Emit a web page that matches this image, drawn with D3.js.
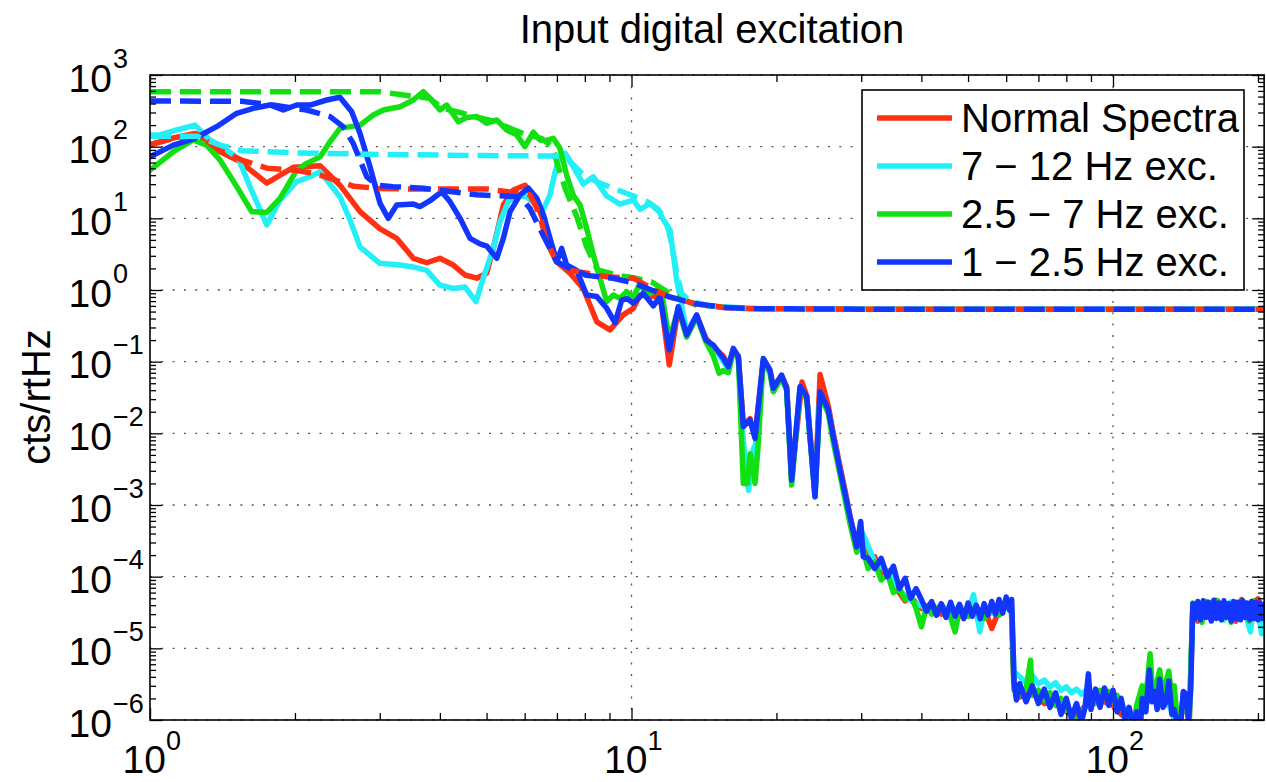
<!DOCTYPE html>
<html>
<head>
<meta charset="utf-8">
<script src="https://cdn.jsdelivr.net/npm/d3@7"></script>
<style>
  body { margin: 0; background: #fff; }
  svg text { font-family: "Liberation Sans", Arial, Helvetica, sans-serif; fill: #000; }
</style>
</head>
<body>
<svg id="chart" width="1266" height="782"></svg>
<script>
// ---- spectra: [frequency Hz, amplitude cts/rtHz] ----
const normalSpectra = [
  [1.0,105],[1.116,132],[1.24,153],[1.375,90],[1.538,62],[1.748,31],[1.984,51.5],[2.255,54],[2.48,29],
  [2.73,12.4],[3.0,7.2],[3.253,5.25],[3.523,2.77],[3.756,2.4],[4.0,2.77],[4.265,2.23],[4.51,1.62],[4.77,1.46],
  [5.0,1.71],[5.164,3.8],[5.417,15.3],[5.683,24.8],[6.008,29],[6.357,17],[6.667,6.5],[6.995,2.48],[7.45,1.71],
  [7.94,1.05],[8.47,0.36],[9.02,0.277],[9.61,0.45],[10.09,0.555],[10.41,0.85],[11.1,0.81],[11.46,0.9],[11.98,0.09],
  [12.51,0.56],[13.02,0.25],[13.66,0.43],[14.28,0.21],[14.79,0.16],[15.51,0.12],[15.89,0.09],[16.27,0.14],[16.67,0.12],
  [17.07,0.013],[17.63,0.016],[18.05,0.009],[18.78,0.1],[19.39,0.075],[19.7,0.045],[20.5,0.062],[21.0,0.045],[21.51,0.0025],
  [22.6,0.052],[23.12,0.033],[24.05,0.0015],[24.64,0.066],[25.63,0.024],[26.25,0.01],[27.1,0.0035],[27.76,0.0016],[28.43,7e-4],
  [29.36,2.8e-4],[30,4e-4],[31,1.6e-4],[32,1.9e-4],[33,1.0e-4],[34,1.2e-4],[35,7.0e-5],[36,6.0e-5],[37,4.6e-5],[38,5.2e-5],
  [40,3.6e-5],[42,4.2e-5],[44,3.0e-5],[46,3.7e-5],[48,2.8e-5],[50,3.5e-5],[52,3.0e-5],[54,3.6e-5],[56,1.9e-5],[58,3.4e-5],
  [60,3.9e-5],[61.5,3.6e-5],[62.3,2.8e-6],[64,2.1e-6],[68,2.4e-6],[72,1.7e-6],[76,1.8e-6],[80,1.3e-6],[84,1.2e-6],[88,1.6e-6],
  [92,1.9e-6],[96,1.8e-6],[100,1.6e-6],[104,1.2e-6],[108,1.0e-6],[112,0.9e-6],[116,1.8e-6],[120,3.0e-6],[124,2.0e-6],
  [128,2.2e-6],[132,1.5e-6],[136,0.7e-6],[140,1.8e-6],[144,1.0e-6],[146.5,3.4e-5],[150,2.4e-5],[155,4.4e-5],[160,2.5e-5],
  [165,4.6e-5],[170,2.6e-5],[175,4.3e-5],[180,2.4e-5],[185,4.8e-5],[190,2.6e-5],[195,4.2e-5],[200,4.9e-5],[206,3.0e-5]
];

const exc7to12 = [
  [1.0,146],[1.049,146],[1.136,171],[1.24,200],[1.332,124],[1.443,90],[1.525,68.7],[1.613,27.7],[1.748,8.1],
  [1.862,18],[2.017,32.5],[2.149,38],[2.255,44.8],[2.48,20],[2.603,9.5],[2.73,4.0],[3.0,2.36],[3.306,2.23],[3.523,2.1],
  [3.756,1.88],[4.0,1.17],[4.265,1.05],[4.51,1.1],[4.754,0.69],[4.922,1.46],[5.164,3.8],[5.333,9.0],[5.548,17],
  [5.776,20.6],[6.058,20],[6.357,15.3],[6.561,13.3],[6.774,21.3],[6.94,44.8],[7.10,76.6],[7.28,81],[7.57,52.6],
  [7.94,30],[8.33,38],[8.88,20.5],[9.46,15.8],[10.09,18],[10.42,13.3],[10.92,16.2],[11.37,13.3],[11.55,10.5],
  [12.02,6.9],[12.21,3.2],[12.41,1.38],[12.61,0.81],[12.81,0.46],[13.02,0.26],[13.66,0.44],[14.28,0.19],[14.79,0.17],
  [15.51,0.1],[15.89,0.08],[16.27,0.14],[16.67,0.11],[17.07,0.008],[17.5,0.0016],[17.9,0.006],[18.1,0.007],[18.78,0.1],
  [19.39,0.07],[19.7,0.04],[20.5,0.06],[21.0,0.04],[21.51,0.0022],[22.39,0.042],[23.12,0.03],[24.05,0.0014],[24.64,0.036],
  [25.63,0.02],[26.25,0.009],[27.1,0.003],[28.43,6.5e-4],[29.36,2.5e-4],[30,4.5e-4],[32,1.6e-4],[34,1.2e-4],[36,6.5e-5],
  [38,4.6e-5],[40,3.9e-5],[42,3.2e-5],[44,4.0e-5],[46,3.2e-5],[48,3.9e-5],[50,3.1e-5],[51.3,5.6e-5],[52.9,1.7e-5],
  [54,3.5e-5],[56,3.1e-5],[58,4.2e-5],[60,3.6e-5],[61.5,4.0e-5],[62.3,4.8e-6],[64,4.0e-6],[66,3.3e-6],[68,4.2e-6],
  [70,3.2e-6],[72,3.6e-6],[74,2.9e-6],[76,3.3e-6],[78,2.6e-6],[80,2.9e-6],[82,2.4e-6],[84,2.7e-6],[86,2.3e-6],[88,2.6e-6],
  [90,2.4e-6],[92,2.2e-6],[94,2.5e-6],[96,2.1e-6],[98,2.3e-6],[100,1.9e-6],[104,1.6e-6],[108,1.3e-6],[112,1.0e-6],
  [116,1.4e-6],[120,2.5e-6],[124,2.2e-6],[128,2.0e-6],[132,1.4e-6],[136,0.8e-6],[140,2.0e-6],[144,1.1e-6],[146.5,3.8e-5],
  [150,2.7e-5],[155,4.5e-5],[160,2.6e-5],[165,4.2e-5],[170,2.5e-5],[175,4.4e-5],[180,2.8e-5],[185,4.1e-5],[190,2.5e-5],
  [193,1.7e-5],[196,4.2e-5],[200,3.3e-5],[203.6,1.6e-5],[206,3.4e-5]
];

const exc2p5to7 = [
  [1.0,47],[1.118,85],[1.23,124],[1.311,105],[1.398,65],[1.514,27.7],[1.626,12.4],[1.748,12.1],[1.862,19],
  [2.017,47],[2.115,58.5],[2.255,72],[2.365,117],[2.48,180],[2.73,200],[2.909,277],[3.052,325],[3.306,361],
  [3.523,448],[3.695,585],[3.815,473],[4.0,325],[4.133,381],[4.368,223],[4.545,255],[4.77,263],[5.0,212],[5.25,236],
  [5.506,171],[5.776,146],[6.008,100],[6.254,159],[6.457,124],[6.667,122],[6.88,131],[7.10,95],[7.334,40],[7.57,21],
  [7.82,15.3],[8.07,7.2],[8.33,3.1],[8.6,1.46],[8.88,0.69],[9.17,0.85],[9.46,0.765],[9.77,0.95],[10.09,0.8],
  [10.42,1.24],[10.75,0.85],[11.28,1.0],[11.6,0.78],[11.98,0.2],[12.51,0.55],[13.02,0.22],[13.66,0.42],[14.28,0.19],
  [14.79,0.12],[15.2,0.069],[15.51,0.075],[15.89,0.07],[16.27,0.14],[16.67,0.11],[17.07,0.002],[17.4,0.002],[17.63,0.0052],
  [17.85,0.0035],[18.05,0.002],[18.3,0.006],[18.78,0.105],[19.39,0.07],[19.7,0.038],[20.5,0.06],[21.0,0.04],[21.51,0.0019],
  [22.39,0.043],[23.12,0.03],[24.05,0.0013],[24.64,0.035],[25.63,0.019],[26.25,0.0075],[27.1,0.0027],[27.76,0.0012],
  [28.43,5.5e-4],[29.36,2.2e-4],[30,3e-4],[31,1.3e-4],[32,1.6e-4],[33,9.0e-5],[34,1.1e-4],[35,6.0e-5],[36,6.8e-5],
  [37,4.8e-5],[38,5.6e-5],[39,3.6e-5],[40,2.0e-5],[41,3.9e-5],[42,3.0e-5],[44,4.0e-5],[46,2.7e-5],[47,1.7e-5],[48,3.6e-5],
  [50,2.8e-5],[52,3.9e-5],[54,2.6e-5],[56,3.7e-5],[58,2.9e-5],[60,4.2e-5],[61.5,3.8e-5],[62.3,2.6e-6],[64,2.3e-6],
  [66,2.7e-6],[67.4,6.8e-6],[68,2.2e-6],[70,2.6e-6],[72,1.9e-6],[74,2.4e-6],[76,1.6e-6],[78,2.0e-6],[80,1.4e-6],[82,1.2e-6],
  [84,0.9e-6],[86,1.3e-6],[88,1.6e-6],[90,2.3e-6],[92,1.7e-6],[94,2.6e-6],[96,2.0e-6],[98,2.5e-6],[100,1.8e-6],[102,2.2e-6],
  [104,1.5e-6],[106,1.2e-6],[108,1.0e-6],[110,0.8e-6],[112,1.6e-6],[115,3.0e-6],[117,2.0e-6],[119.4,8.4e-6],[121,2.2e-6],
  [123,3.0e-6],[125,5.0e-6],[127,2.0e-6],[129,3.5e-6],[130.6,4.8e-6],[132.5,2.0e-6],[134,3.0e-6],[136,1.0e-6],[138,0.8e-6],
  [140,2.4e-6],[142,1.6e-6],[144,0.9e-6],[146.5,4.3e-5],[150,3.2e-5],[153,2.3e-5],[156,4.5e-5],[160,2.8e-5],[164,4.7e-5],
  [168,2.5e-5],[172,4.2e-5],[176,2.3e-5],[180,4.4e-5],[184,2.6e-5],[188,4.3e-5],[192,2.4e-5],[196,4.6e-5],[200,2.7e-5],
  [206,4.0e-5]
];

const exc1to2p5 = [
  [1.0,72],[1.118,105],[1.24,131],[1.375,190],[1.514,292],[1.639,343],[1.775,381],[1.891,325],[2.017,381],[2.149,381],
  [2.328,448],[2.48,489],[2.624,308],[2.73,153],[2.863,52.6],[3.004,16.2],[3.126,10],[3.253,15.3],[3.523,15.8],[3.637,14.6],
  [3.815,17.6],[4.036,23.5],[4.2,17],[4.405,10],[4.62,5.25],[4.846,4.4],[5.004,4.1],[5.25,2.77],[5.417,5.25],[5.595,12.4],
  [5.868,21.3],[6.107,26.3],[6.357,19],[6.561,11.2],[6.774,5.25],[6.995,2.48],[7.16,3.8],[7.334,2.23],[7.693,1.88],
  [8.07,0.85],[8.47,0.81],[8.884,0.555],[9.24,0.35],[9.543,0.72],[9.8,0.76],[10.09,0.65],[10.58,0.9],[11.1,0.6],[11.46,0.81],
  [11.98,0.146],[12.51,0.585],[13.02,0.236],[13.66,0.45],[14.28,0.2],[14.79,0.17],[15.51,0.111],[15.89,0.085],[16.27,0.153],
  [16.67,0.117],[17.07,0.0124],[17.63,0.0154],[18.05,0.0085],[18.78,0.111],[19.39,0.0766],[19.7,0.0425],[20.5,0.065],
  [21.0,0.0425],[21.51,0.00223],[22.39,0.0449],[23.12,0.0325],[24.05,0.0013],[24.64,0.038],[25.63,0.0212],[26.25,0.009],
  [27.1,0.0031],[27.76,0.00146],[28.43,6.9e-4],[29.36,2.6e-4],[29.92,5.9e-4],[30.29,1.9e-4],[31,1.8e-4],[32,1.3e-4],
  [33,1.8e-4],[34,1.0e-4],[35,1.4e-4],[36,6.8e-5],[37,9.5e-5],[38,5.0e-5],[39,6.8e-5],[40,4.8e-5],[41,3.3e-5],[42,4.5e-5],
  [43,2.9e-5],[44,4.2e-5],[45,2.7e-5],[46,4.4e-5],[47,2.8e-5],[48,4.1e-5],[49,2.6e-5],[50,4.3e-5],[51,2.8e-5],[52,4.0e-5],
  [53,2.6e-5],[54,4.2e-5],[55,2.9e-5],[56,4.5e-5],[57,3.0e-5],[58,4.8e-5],[59,3.1e-5],[60,5.2e-5],[61,3.4e-5],[61.6,4.8e-5],
  [62.3,3.4e-6],[63,1.9e-6],[64,3.2e-6],[66,1.8e-6],[68,3.0e-6],[70,1.7e-6],[72,2.7e-6],[74,1.5e-6],[76,2.4e-6],[78,1.2e-6],
  [80,2.0e-6],[82,1.05e-6],[84,1.7e-6],[86,0.95e-6],[87.5,1.5e-6],[88.9,4.4e-6],[90,1.4e-6],[92,2.7e-6],[94,1.5e-6],
  [96,2.8e-6],[98,1.6e-6],[100,2.6e-6],[102,1.3e-6],[104,2.0e-6],[106,1.0e-6],[108,1.5e-6],[110,0.85e-6],[112,1.3e-6],
  [114,0.8e-6],[115,2.0e-6],[117,1.3e-6],[119,5.0e-6],[120.5,1.8e-6],[122,2.5e-6],[123.5,1.4e-6],[125,3.7e-6],[127,1.5e-6],
  [129,1.8e-6],[130.6,3.5e-6],[132.5,1.2e-6],[134,1.4e-6],[136,0.9e-6],[138,0.8e-6],[140,2.5e-6],[142,2.3e-6],[143.5,1.0e-6],
  [145,2.6e-6],[146.5,4.2e-5],[148,2.6e-5],[150,4.5e-5],[152,2.5e-5],[154,4.6e-5],[156,2.7e-5],[158,4.4e-5],[160,2.4e-5],
  [162,4.7e-5],[164,2.6e-5],[166,4.3e-5],[168,2.5e-5],[170,4.6e-5],[172,2.7e-5],[174,4.2e-5],[176,2.4e-5],[178,4.5e-5],
  [180,2.6e-5],[182,4.4e-5],[184,2.5e-5],[186,4.6e-5],[188,2.7e-5],[190,4.3e-5],[192,2.5e-5],[194,4.5e-5],[196,2.6e-5],
  [198,4.4e-5],[200,2.5e-5],[202,4.3e-5],[204,2.6e-5],[206,4.1e-5]
];

// ---- dashed companions (smoothed excitation levels) ----
const normalDashed = [
  [1,108],[1.12,130],[1.25,150],[1.4,88],[1.55,65],[1.75,50],[2.0,47],[2.2,42],[2.4,35],[2.65,28],[3.0,26],[3.5,25.7],
  [5.0,25.7],[6.15,21.3],[6.35,14],[6.5,9],[6.66,4.7],[6.99,2.48],[7.45,1.88],[8.9,1.53],[10.1,1.46],[11.0,1.05],
  [12.0,0.8],[13.5,0.65],[15.5,0.57],[18,0.55],[30,0.54],[206,0.54]
];
const dashed7to12 = [
  [1,140],[1.25,140],[1.4,105],[1.55,88],[2.0,82],[3.0,78],[5.0,75],[7.0,74],[7.4,65],[7.9,42],[8.5,32],[9.2,26],
  [10,21],[10.8,17],[11.5,12],[11.9,7.5],[12.15,4],[12.4,1.8],[12.7,0.9],[13.2,0.7],[14.5,0.6],[18,0.55],[30,0.54],[206,0.54]
];
const dashed2p5to7 = [
  [1,585],[3.0,585],[3.36,525],[3.8,475],[4.05,345],[4.4,300],[4.8,255],[5.2,225],[5.6,180],[6.0,150],[6.5,130],
  [6.85,100],[7.0,60],[7.3,25],[7.7,10.5],[8.07,4],[8.5,1.9],[9.4,1.6],[10,1.5],[11,1.3],[12,0.9],[13.6,0.62],
  [17,0.55],[30,0.54],[206,0.54]
];
const dashed1to2p5 = [
  [1,434],[1.55,430],[1.8,381],[2.115,325],[2.366,263],[2.518,190],[2.643,111],[2.73,65],[2.82,38],[2.958,29],
  [3.2,27.7],[3.69,26.3],[4.77,21.3],[5.87,20],[6.15,13.8],[6.45,7.2],[6.66,4.7],[6.99,2.48],[7.45,2.0],[8.07,1.6],
  [9.16,1.46],[10.14,1.24],[11.0,1.0],[12.0,0.8],[13.5,0.65],[15.5,0.57],[18,0.55],[30,0.54],[206,0.54]
];

const legendLabels = ["Normal Spectra", "7 \u2212 12 Hz exc.", "2.5 \u2212 7 Hz exc.", "1 \u2212 2.5 Hz exc."];
const seriesColors = ["#ff3112", "#22f0f6", "#12e012", "#1336ff"];
const solidSeries = [normalSpectra, exc7to12, exc2p5to7, exc1to2p5];
const dashedSeries = [normalDashed, dashed7to12, dashed2p5to7, dashed1to2p5];
const dashedOrder = [2, 0, 1, 3];   // green underneath, blue on top

const xDecades = [1, 10, 100];
const yExponents = [3, 2, 1, 0, -1, -2, -3, -4, -5, -6];
const xMax = 206;

// ---- layout ----
const svg = d3.select("#chart");
const plotLeft = 150, plotTop = 75, plotBottom = 720, pxPerDecade = 481.5;
const plotRight = plotLeft + pxPerDecade * Math.log10(xMax);
const lineWidth = 5.5;

const x = d3.scaleLog().domain([1, xMax]).range([plotLeft, plotRight]);
const y = d3.scaleLog().domain([1e-6, 1e3]).range([plotBottom, plotTop]);

const xMinor = [];
[1, 10, 100].forEach(d => { for (let k = 2; k <= 9; k++) if (k * d <= xMax) xMinor.push(k * d); });
const yMajor = yExponents.map(e => Math.pow(10, e));
const yMinor = [];
for (let e = -6; e < 3; e++) for (let k = 2; k <= 9; k++) yMinor.push(k * Math.pow(10, e));

// grid (dotted, at decades)
const grid = svg.append("g").attr("stroke", "#555").attr("stroke-width", 1.3).attr("stroke-dasharray", "2,9.3");
xDecades.filter(d => d > 1).forEach(d => {
  grid.append("line").attr("x1", x(d)).attr("x2", x(d)).attr("y1", plotTop).attr("y2", plotBottom);
});
yMajor.forEach(v => {
  grid.append("line").attr("x1", plotLeft).attr("x2", plotRight).attr("y1", y(v)).attr("y2", y(v));
});

// data
const clip = svg.append("clipPath").attr("id", "plotClip");
clip.append("rect").attr("x", plotLeft).attr("y", plotTop)
  .attr("width", plotRight - plotLeft).attr("height", plotBottom - plotTop);

const line = d3.line().x(d => x(d[0])).y(d => y(d[1]));
const plotG = svg.append("g").attr("clip-path", "url(#plotClip)");

solidSeries.forEach((s, i) => {
  plotG.append("path").datum(s).attr("d", line)
    .attr("fill", "none").attr("stroke", seriesColors[i]).attr("stroke-width", lineWidth)
    .attr("stroke-linejoin", "round").attr("stroke-linecap", "round");
});
dashedOrder.forEach(i => {
  plotG.append("path").datum(dashedSeries[i]).attr("d", line)
    .attr("fill", "none").attr("stroke", seriesColors[i]).attr("stroke-width", lineWidth)
    .attr("stroke-linejoin", "round").attr("stroke-dasharray", "21,9");
});

// ticks on all four sides, pointing inward
function tickAxis(axis, transform) {
  const g = svg.append("g").attr("transform", transform).call(axis);
  g.select(".domain").remove();
  g.selectAll(".tick line").attr("stroke", "#000").attr("stroke-width", 1.3);
  g.selectAll(".tick text").remove();
}
tickAxis(d3.axisBottom(x).tickValues(xDecades).tickSize(-12), `translate(0,${plotBottom})`);
tickAxis(d3.axisBottom(x).tickValues(xMinor).tickSize(-7), `translate(0,${plotBottom})`);
tickAxis(d3.axisTop(x).tickValues(xDecades).tickSize(-12), `translate(0,${plotTop})`);
tickAxis(d3.axisTop(x).tickValues(xMinor).tickSize(-7), `translate(0,${plotTop})`);
tickAxis(d3.axisLeft(y).tickValues(yMajor).tickSize(-12), `translate(${plotLeft},0)`);
tickAxis(d3.axisLeft(y).tickValues(yMinor).tickSize(-6), `translate(${plotLeft},0)`);
tickAxis(d3.axisRight(y).tickValues(yMajor).tickSize(-12), `translate(${plotRight},0)`);
tickAxis(d3.axisRight(y).tickValues(yMinor).tickSize(-6), `translate(${plotRight},0)`);

// frame
svg.append("rect").attr("x", plotLeft).attr("y", plotTop)
  .attr("width", plotRight - plotLeft).attr("height", plotBottom - plotTop)
  .attr("fill", "none").attr("stroke", "#000").attr("stroke-width", 1.6);

// tick labels: 10 with superscript exponent
const fmtExp = e => (e < 0 ? "\u2212" + Math.abs(e) : String(e));
yExponents.forEach(e => {
  const ty = y(Math.pow(10, e));
  svg.append("text").attr("x", 112).attr("y", ty + 16.5).attr("text-anchor", "end")
    .attr("font-size", 39).text("10");
  svg.append("text").attr("x", 113).attr("y", ty - 7.5).attr("text-anchor", "start")
    .attr("font-size", 27).text(fmtExp(e));
});
xDecades.forEach(d => {
  const tx = x(d);
  const e = Math.round(Math.log10(d));
  svg.append("text").attr("x", tx + 16).attr("y", 773).attr("text-anchor", "end")
    .attr("font-size", 39).text("10");
  svg.append("text").attr("x", tx + 16).attr("y", 750).attr("text-anchor", "start")
    .attr("font-size", 27).text(fmtExp(e));
});

// title and axis label
svg.append("text").attr("x", 712).attr("y", 43).attr("text-anchor", "middle")
  .attr("font-size", 40).text("Input digital excitation");
svg.append("text").attr("transform", "translate(50,397) rotate(-90)").attr("text-anchor", "middle")
  .attr("font-size", 40).text("cts/rtHz");

// legend
const lg = svg.append("g");
lg.append("rect").attr("x", 862).attr("y", 90).attr("width", 382).attr("height", 200)
  .attr("fill", "#fff").attr("stroke", "#000").attr("stroke-width", 1.6);
legendLabels.forEach((lab, i) => {
  const ly = 118 + i * 48;
  lg.append("line").attr("x1", 877).attr("x2", 952).attr("y1", ly).attr("y2", ly)
    .attr("stroke", seriesColors[i]).attr("stroke-width", lineWidth);
  lg.append("text").attr("x", 961).attr("y", ly + 14).attr("font-size", 40).text(lab);
});
</script>
</body>
</html>
